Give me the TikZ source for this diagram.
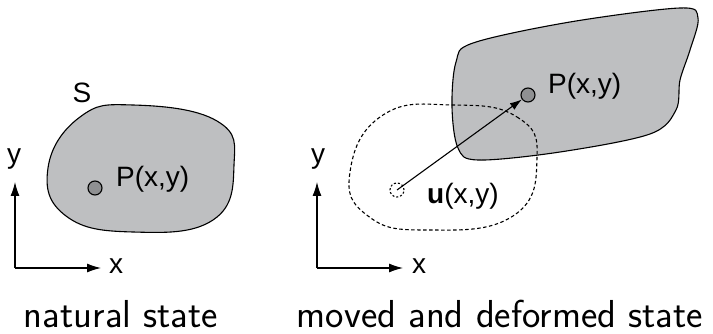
\documentclass[tikz,border=0pt]{standalone}
\usepackage{fontspec}
\newfontfamily\labelfont{Liberation Sans}
\usetikzlibrary{arrows.meta, positioning}
\definecolor{bodygray}{HTML}{BEBFC1}
\definecolor{pointgray}{HTML}{8F9092}

\begin{document}
\begin{tikzpicture}[
    x=1pt, y=-1pt,
    body/.style={draw, line width=1.1pt, fill=bodygray},
    ghost/.style={draw, line width=1.1pt, dash pattern=on 3.5pt off 2.5pt},
    pt/.style={circle, draw, line width=1.1pt, fill=pointgray, minimum size=14pt, inner sep=0pt},
    ghostpt/.style={circle, ghost, minimum size=14pt, inner sep=0pt, dash pattern=on 2pt off 2pt},
    lbl/.style={font=\labelfont\fontsize{28}{32}\selectfont, inner sep=0pt},
    statelbl/.style={font=\sffamily\fontsize{39}{44}\selectfont, inner sep=0pt},
    axis/.style={-{Latex[length=14pt,width=9pt]}, line width=1.1pt},
    arr/.style={-{Latex[length=12pt,width=8pt]}, line width=1.1pt},
]
\useasboundingbox (0,0) rectangle (713,334);

% natural state
\draw[body] plot[smooth cycle, tension=0.75] coordinates {
    (133,105) (217,121) (234,165) (213,220) (133,232) (66,216) (48,168) (80,117)};
\node[pt] (p1) at (95,188) {};
\node[lbl, anchor=west] (p1lbl) at (116,179) {P(x,y)};
\node[lbl] (s) at (82,93) {S};

\coordinate (o1) at (15,268);
\draw[axis] (o1) -- ++(0,-86) coordinate (y1);
\draw[axis] (o1) -- ++(86,0) coordinate (x1);
\node[lbl] (y1lbl) at (14,159) {y};
\node[lbl] (x1lbl) at (116,266) {x};

% moved and deformed state
\draw[body] plot[smooth cycle, tension=0.55] coordinates {
    (473,43) (570,22) (680,8) (698,18) (690,50) (680,80) (676,110) (650,134)
    (560,152) (478,160) (458,148) (452,107) (456,62)};
\draw[ghost] plot[smooth cycle, tension=0.8] coordinates {
    (453,105) (517,117) (537,158) (513,216) (427,230) (368,216) (350,172) (383,115)};
\node[pt] (p2) at (528,95) {};
\node[ghostpt] (u0) at (397,190) {};
\node[lbl, anchor=west] (p2lbl) at (548,86) {P(x,y)};
\node[lbl, anchor=west] (ulbl) at (427,196) {\textbf{u}(x,y)};
\draw[arr] (u0.center) -- (p2);

\coordinate (o2) at (317,268);
\draw[axis] (o2) -- ++(0,-86) coordinate (y2);
\draw[axis] (o2) -- ++(86,0) coordinate (x2);
\node[lbl] (y2lbl) at (318,159) {y};
\node[lbl] (x2lbl) at (419,266) {x};

% captions
\node[statelbl, anchor=base] (cap1) at (121,327) {natural state};
\node[statelbl, anchor=base] (cap2) at (500,327) {moved and deformed state};

\end{tikzpicture}
\end{document}
